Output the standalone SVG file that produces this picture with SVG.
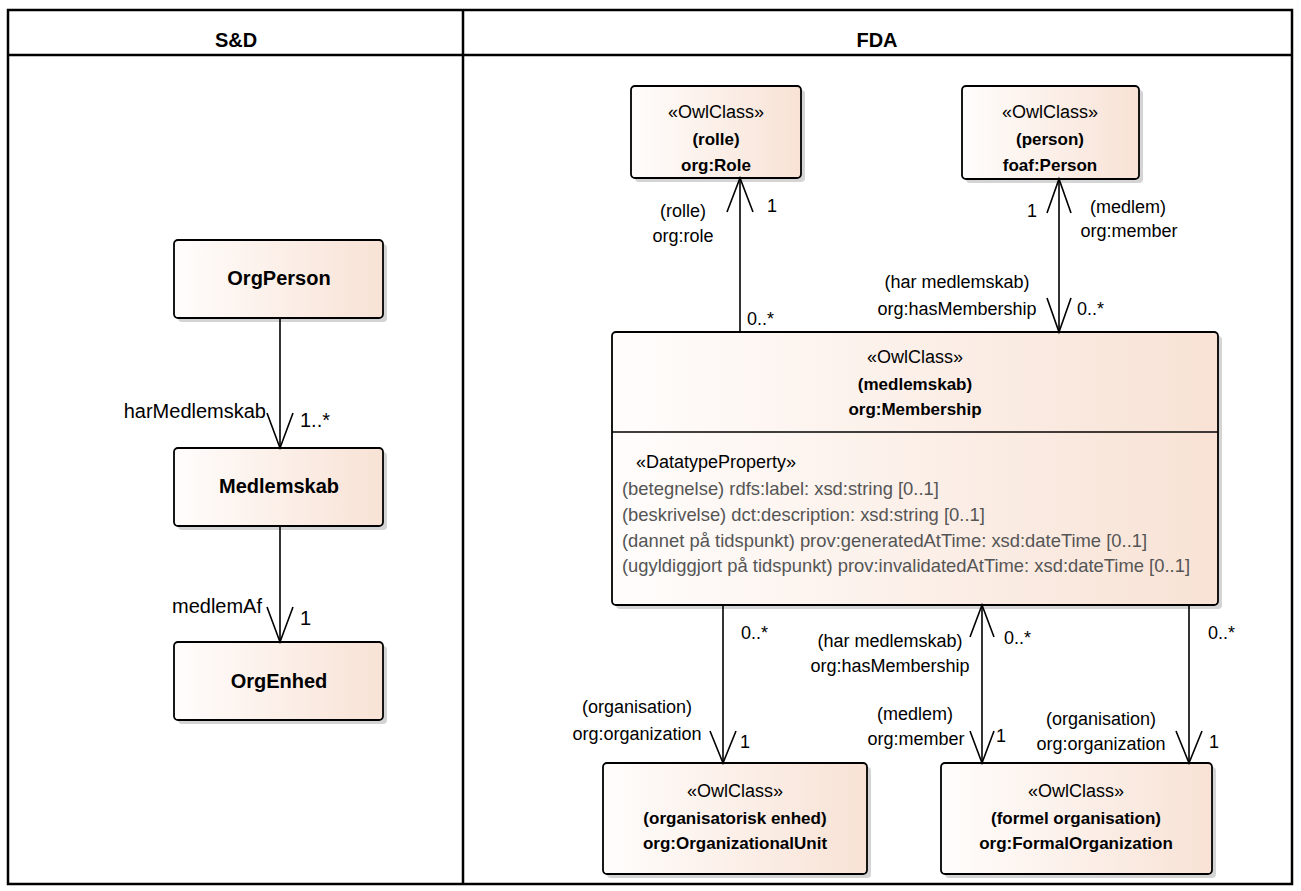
<svg xmlns="http://www.w3.org/2000/svg" width="1301" height="891" viewBox="0 0 1301 891">
<defs>
<linearGradient id="fill" x1="0" y1="0" x2="1" y2="0">
<stop offset="0" stop-color="#fffdfc"/>
<stop offset="1" stop-color="#f8e2d5"/>
</linearGradient>
</defs>
<style>
.tbl{fill:none;stroke:#000;stroke-width:2.5}
.box{fill:url(#fill);stroke:#000;stroke-width:1.8}
.sh{fill:#d4d4d4}
.ln{fill:none;stroke:#000;stroke-width:1.6}
.hd{fill:none;stroke:#000;stroke-width:1.6;stroke-linejoin:miter}
text{font-family:"Liberation Sans",Arial,sans-serif;fill:#000}
.h{font-size:20px;font-weight:bold;text-anchor:middle}
.t{font-size:18px}
.c{text-anchor:middle}
.e{text-anchor:end}
.b{font-size:17px;font-weight:bold;text-anchor:middle}
.L{font-size:20px}
.LB{font-size:20px;font-weight:bold;text-anchor:middle}
.a{font-size:18.4px;fill:#555}
</style>
<rect width="1301" height="891" fill="#fff"/>
<g id="table">
<rect class="tbl" x="8" y="10" width="1284" height="874"/>
<line class="tbl" x1="8" y1="55" x2="1292" y2="55"/>
<line class="tbl" x1="463" y1="10" x2="463" y2="884"/>
<text class="h" x="236" y="47">S&amp;D</text>
<text class="h" x="877" y="47">FDA</text>
</g>
<g id="OrgPerson">
<rect class="sh" x="178" y="244" width="209" height="78" rx="4"/>
<rect class="box" x="174" y="240" width="209" height="78" rx="4"/>
<text class="LB" x="279" y="285">OrgPerson</text>
</g>
<g id="Medlemskab">
<rect class="sh" x="178" y="452" width="209" height="78" rx="4"/>
<rect class="box" x="174" y="448" width="209" height="78" rx="4"/>
<text class="LB" x="279" y="493">Medlemskab</text>
</g>
<g id="OrgEnhed">
<rect class="sh" x="178" y="646" width="209" height="78" rx="4"/>
<rect class="box" x="174" y="642" width="209" height="78" rx="4"/>
<text class="LB" x="279" y="688">OrgEnhed</text>
</g>
<g id="Role">
<rect class="sh" x="635" y="90" width="170" height="92" rx="4"/>
<rect class="box" x="631" y="86" width="170" height="92" rx="4"/>
<text class="t c" x="716" y="118">«OwlClass»</text>
<text class="b" x="716" y="145">(rolle)</text>
<text class="b" x="716" y="171">org:Role</text>
</g>
<g id="Person">
<rect class="sh" x="966" y="90" width="177" height="93" rx="4"/>
<rect class="box" x="962" y="86" width="177" height="93" rx="4"/>
<text class="t c" x="1050" y="118">«OwlClass»</text>
<text class="b" x="1050" y="145">(person)</text>
<text class="b" x="1050" y="171">foaf:Person</text>
</g>
<g id="Membership">
<rect class="sh" x="616" y="336" width="606" height="273" rx="4"/>
<rect class="box" x="612" y="332" width="606" height="273" rx="4"/>
<line class="ln" x1="612" y1="432" x2="1218" y2="432"/>
<text class="t c" x="915" y="363">«OwlClass»</text>
<text class="b" x="915" y="390">(medlemskab)</text>
<text class="b" x="915" y="415">org:Membership</text>
<text class="t" x="636" y="468">«DatatypeProperty»</text>
<text class="a" x="622" y="495">(betegnelse) rdfs:label: xsd:string [0..1]</text>
<text class="a" x="622" y="521">(beskrivelse) dct:description: xsd:string [0..1]</text>
<text class="a" x="622" y="547">(dannet på tidspunkt) prov:generatedAtTime: xsd:dateTime [0..1]</text>
<text class="a" x="622" y="572">(ugyldiggjort på tidspunkt) prov:invalidatedAtTime: xsd:dateTime [0..1]</text>
</g>
<g id="OrganizationalUnit">
<rect class="sh" x="607" y="767" width="264" height="111" rx="4"/>
<rect class="box" x="603" y="763" width="264" height="111" rx="4"/>
<text class="t c" x="735" y="797">«OwlClass»</text>
<text class="b" x="735" y="824">(organisatorisk enhed)</text>
<text class="b" x="735" y="849">org:OrganizationalUnit</text>
</g>
<g id="FormalOrganization">
<rect class="sh" x="945" y="767" width="271" height="111" rx="4"/>
<rect class="box" x="941" y="763" width="271" height="111" rx="4"/>
<text class="t c" x="1076" y="797">«OwlClass»</text>
<text class="b" x="1076" y="824">(formel organisation)</text>
<text class="b" x="1076" y="849">org:FormalOrganization</text>
</g>
<g id="connectors">
<line class="ln" x1="280" y1="318" x2="280" y2="448"/>
<polyline class="hd" points="267,413 280,448 293,413"/>
<text class="L e" x="266" y="418">harMedlemskab</text>
<text class="L" x="300" y="427">1..*</text>
<line class="ln" x1="280" y1="526" x2="280" y2="642"/>
<polyline class="hd" points="267,607 280,642 293,607"/>
<text class="L e" x="262" y="613">medlemAf</text>
<text class="L" x="300" y="625">1</text>

<line class="ln" x1="740" y1="332" x2="740" y2="178"/>
<polyline class="hd" points="727,212 740,178 753,212"/>
<text class="t c" x="683" y="217">(rolle)</text>
<text class="t c" x="683" y="242">org:role</text>
<text class="t" x="767" y="212">1</text>
<text class="t" x="747" y="325">0..*</text>

<line class="ln" x1="1059" y1="179" x2="1059" y2="332"/>
<polyline class="hd" points="1047,213 1059,179 1071,213"/>
<polyline class="hd" points="1047,298 1059,332 1071,298"/>
<text class="t" x="1027" y="217">1</text>
<text class="t c" x="1128" y="213">(medlem)</text>
<text class="t c" x="1129" y="237">org:member</text>
<text class="t c" x="957" y="288">(har medlemskab)</text>
<text class="t c" x="957" y="315">org:hasMembership</text>
<text class="t" x="1077" y="315">0..*</text>

<line class="ln" x1="723" y1="605" x2="723" y2="763"/>
<polyline class="hd" points="710,731 723,763 736,731"/>
<text class="t" x="741" y="639">0..*</text>
<text class="t c" x="637" y="713">(organisation)</text>
<text class="t c" x="637" y="740">org:organization</text>
<text class="t" x="740" y="748">1</text>

<line class="ln" x1="982" y1="605" x2="982" y2="763"/>
<polyline class="hd" points="970,637 982,605 994,637"/>
<polyline class="hd" points="970,731 982,763 994,731"/>
<text class="t c" x="890" y="647">(har medlemskab)</text>
<text class="t c" x="890" y="672">org:hasMembership</text>
<text class="t" x="1004" y="644">0..*</text>
<text class="t c" x="915" y="720">(medlem)</text>
<text class="t c" x="916" y="745">org:member</text>
<text class="t" x="996" y="742">1</text>

<line class="ln" x1="1189" y1="605" x2="1189" y2="763"/>
<polyline class="hd" points="1176,731 1189,763 1202,731"/>
<text class="t" x="1208" y="639">0..*</text>
<text class="t c" x="1101" y="725">(organisation)</text>
<text class="t c" x="1101" y="750">org:organization</text>
<text class="t" x="1209" y="748">1</text>
</g>
</svg>
